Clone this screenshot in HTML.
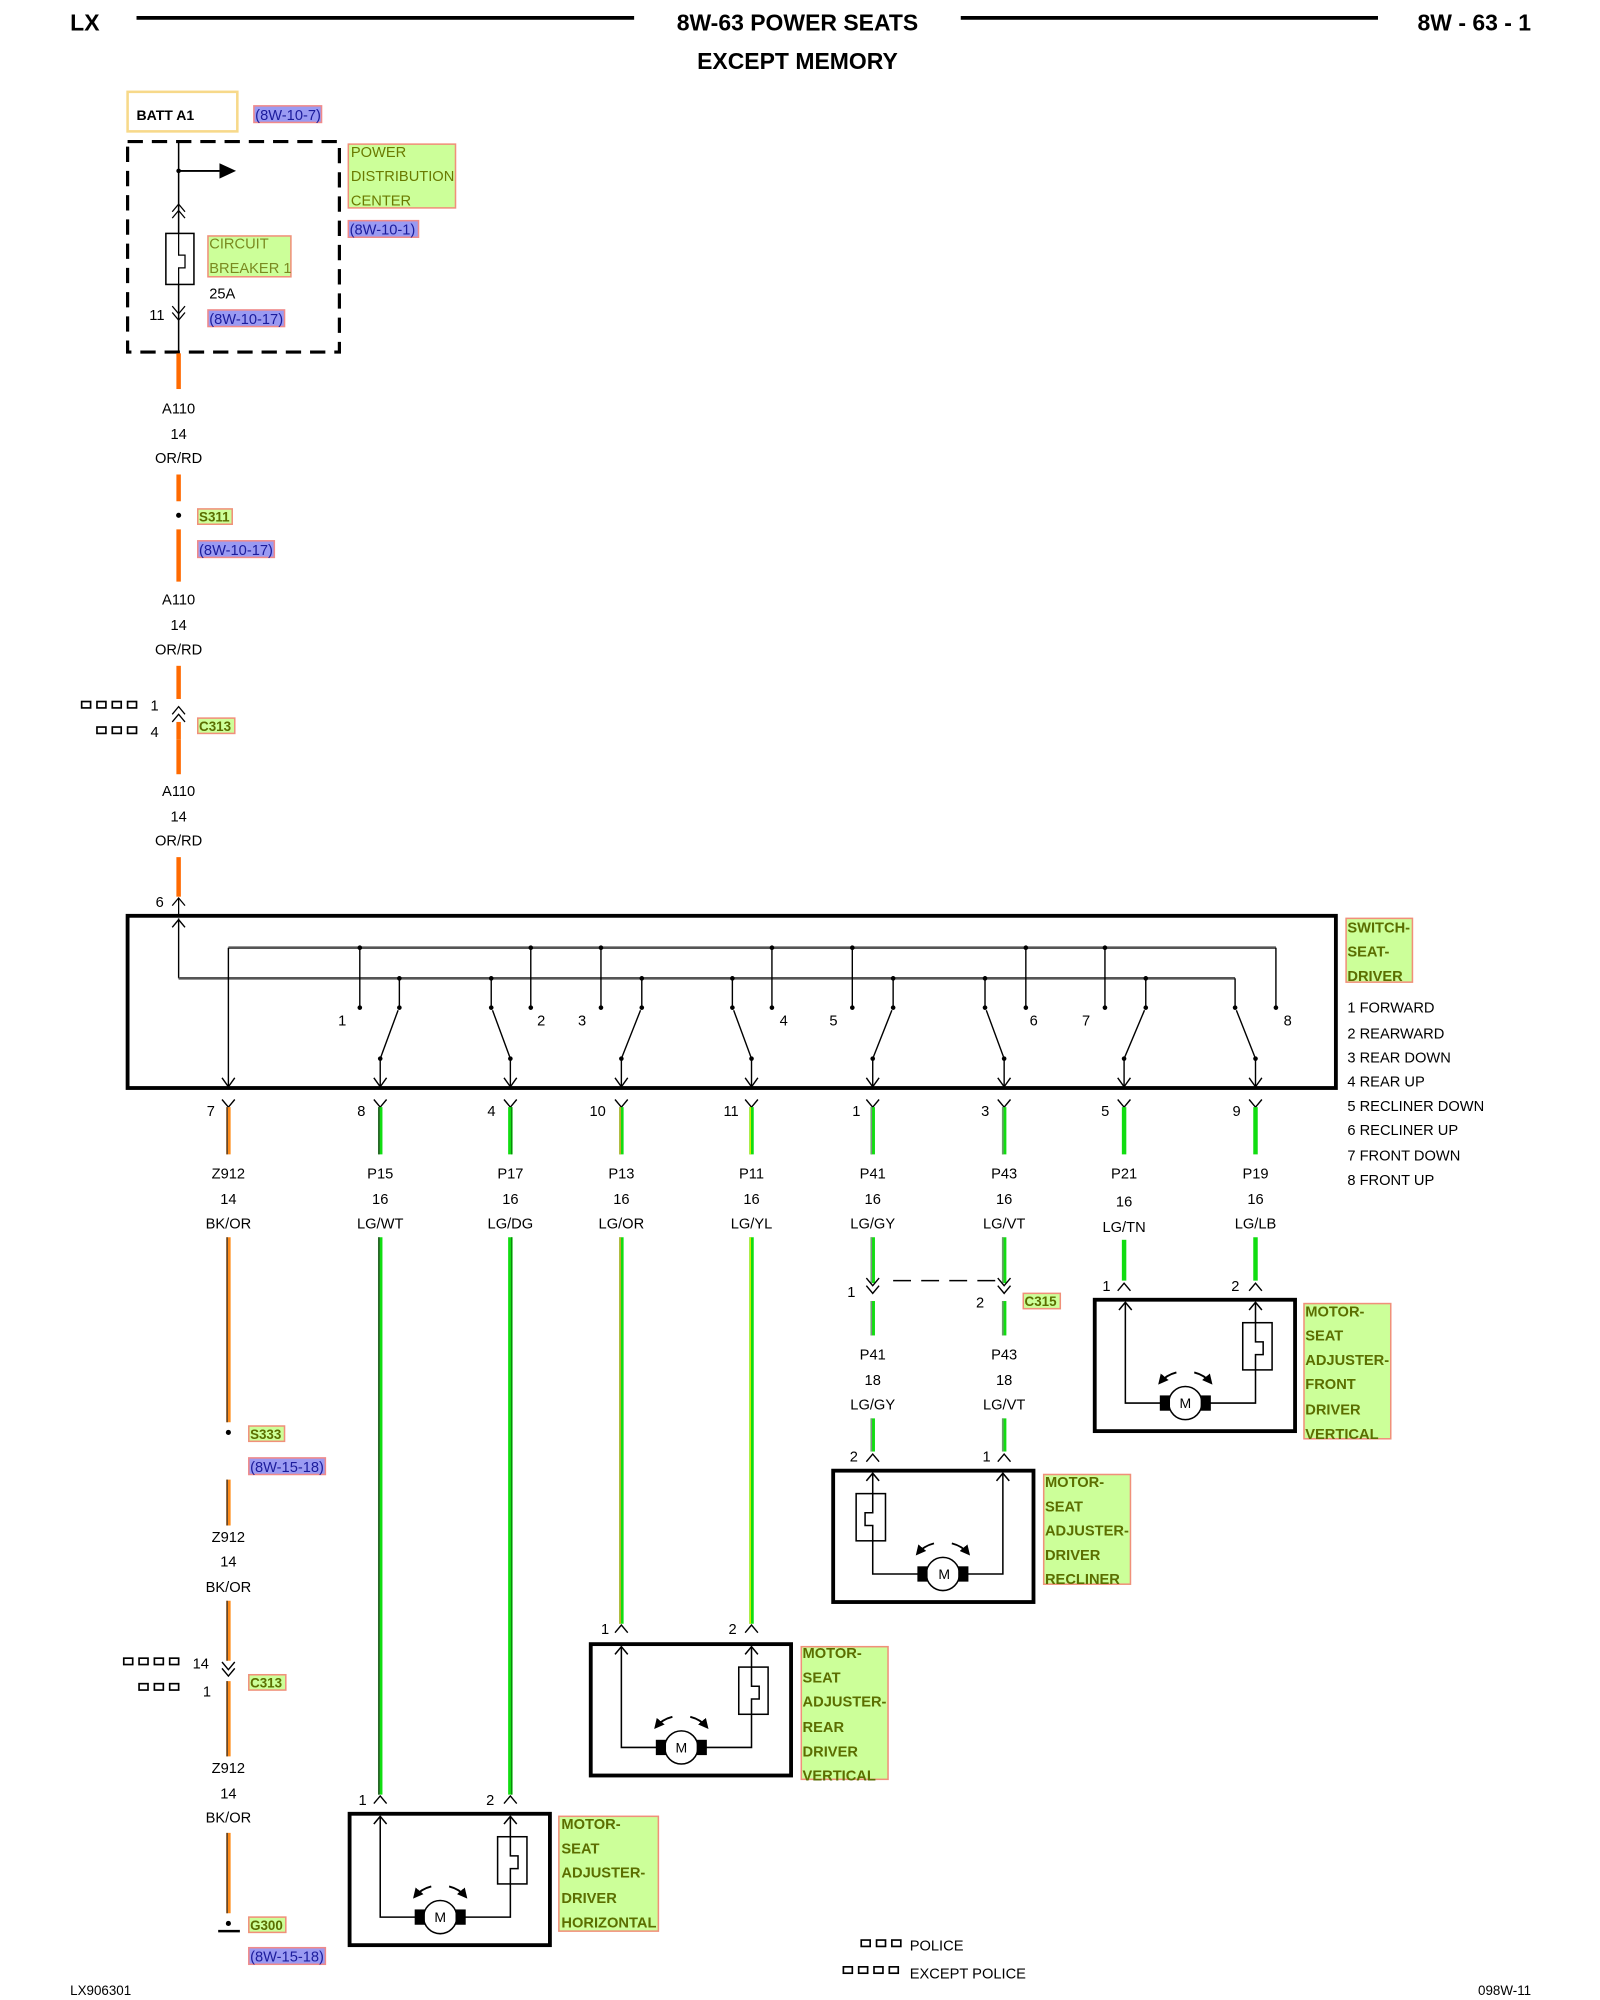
<!DOCTYPE html>
<html><head><meta charset="utf-8"><style>
html,body{margin:0;padding:0;background:#fff;}
svg{display:block;}
text{font-family:"Liberation Sans",sans-serif;font-size:11.5px;fill:#000;}
.h{font-size:18px;font-weight:bold;}
.g{fill:#5b6e00;font-weight:bold;font-size:11.5px;}
.p{fill:#1c1c9c;font-size:11.5px;}
.gb{fill:#ccff99;stroke:#f0907a;stroke-width:1.2;}
.pb{fill:#9a9af2;stroke:#f08a8a;stroke-width:1.2;}
.c{text-anchor:middle;}
</style></head><body>
<svg width="1600" height="2000" viewBox="0 0 1254 1568" preserveAspectRatio="none" xmlns="http://www.w3.org/2000/svg">
<defs>
<marker id="ah" markerWidth="8" markerHeight="8" refX="6" refY="4" orient="auto" markerUnits="userSpaceOnUse"><path d="M0,0 L8,4 L0,8 z" fill="#000"/></marker>
<g id="mot" fill="none" stroke="#000">
<rect x="0" y="0" width="157" height="103" stroke-width="3"/>
<path d="M24,2 V81 H59 M126,2 V18 M126,55 V81 H84" stroke-width="1.2"/>
<polyline points="19,8 24,2 29,8" stroke-width="1.2"/>
<polyline points="121,8 126,2 131,8" stroke-width="1.2"/>
<rect x="116" y="18" width="23" height="37" stroke-width="1.2"/>
<path d="M126,18 V33 h6 v10 h-6 V55" stroke-width="1.2"/>
<circle cx="71" cy="81" r="13" fill="#fff" stroke-width="1.2"/>
<rect x="51" y="75" width="8" height="12" fill="#000" stroke="none"/>
<rect x="83" y="75" width="8" height="12" fill="#000" stroke="none"/>
<path d="M64,57 Q56,59 51,65" stroke-width="1.5" marker-end="url(#ah)"/>
<path d="M78,57 Q86,59 91,65" stroke-width="1.5" marker-end="url(#ah)"/>
</g>
</defs>

<!-- header -->
<text x="55" y="24" class="h">LX</text>
<line x1="107" y1="14" x2="497" y2="14" stroke="#000" stroke-width="3"/>
<text x="625" y="24" class="h c">8W-63 POWER SEATS</text>
<line x1="753" y1="14" x2="1080" y2="14" stroke="#000" stroke-width="3"/>
<text x="1200" y="24" class="h" text-anchor="end">8W - 63 - 1</text>
<text x="625" y="54" class="h c">EXCEPT MEMORY</text>

<!-- BATT -->
<rect x="100" y="72" width="86" height="31" fill="none" stroke="#f7d98a" stroke-width="2"/>
<text x="107" y="94" style="font-size:11px;font-weight:bold">BATT A1</text>
<rect x="199" y="83" width="53" height="13" class="pb"/><text x="200" y="94" class="p">(8W-10-7)</text>

<!-- PDC -->
<rect x="100" y="111" width="166" height="165" fill="none" stroke="#000" stroke-width="2.5" stroke-dasharray="12,7"/>
<line x1="140" y1="111" x2="140" y2="276" stroke="#000" stroke-width="1.2"/>
<line x1="140" y1="134" x2="172" y2="134" stroke="#000" stroke-width="1.5"/>
<path d="M172,128 L185,134 L172,140 z"/>
<circle cx="140" cy="134" r="1.8"/>
<polyline points="135,166 140,160 145,166" fill="none" stroke="#000"/>
<polyline points="135,171 140,165 145,171" fill="none" stroke="#000"/>
<rect x="130" y="183" width="22" height="40" fill="#fff" stroke="#000" stroke-width="1.2"/>
<path d="M140,183 V200 h5 v10 h-5 V223" fill="none" stroke="#000"/>
<polyline points="135,240 140,246 145,240" fill="none" stroke="#000"/>
<polyline points="135,245 140,251 145,245" fill="none" stroke="#000"/>
<text x="117" y="251">11</text>
<rect x="163" y="185" width="65" height="32" class="gb"/>
<text x="164" y="195" style="fill:#7a8a20">CIRCUIT</text><text x="164" y="214" style="fill:#7a8a20">BREAKER 1</text>
<text x="164" y="234">25A</text>
<rect x="163" y="243" width="60" height="13" class="pb"/><text x="164" y="254" class="p">(8W-10-17)</text>
<rect x="273" y="113" width="84" height="50" class="gb"/>
<text x="275" y="123" class="g" style="font-weight:normal;fill:#6a7a00">POWER</text>
<text x="275" y="142" class="g" style="font-weight:normal;fill:#6a7a00">DISTRIBUTION</text>
<text x="275" y="161" class="g" style="font-weight:normal;fill:#6a7a00">CENTER</text>
<rect x="273" y="173" width="55" height="13" class="pb"/><text x="274" y="184" class="p">(8W-10-1)</text>

<!-- A110 orange wire -->
<g stroke="#ff6a00" stroke-width="3.5">
<line x1="140" y1="277" x2="140" y2="305"/><line x1="140" y1="372" x2="140" y2="393"/>
<line x1="140" y1="415" x2="140" y2="456"/><line x1="140" y1="522" x2="140" y2="548"/>
<line x1="140" y1="580" x2="140" y2="607"/><line x1="140" y1="672" x2="140" y2="703"/>
</g>
<text x="140" y="324" class="c">A110</text><text x="140" y="344" class="c">14</text><text x="140" y="363" class="c">OR/RD</text>
<circle cx="140" cy="404" r="2"/>
<rect x="155" y="399" width="27" height="12" class="gb"/><text x="156" y="409" class="g" style="font-size:10.5px">S311</text>
<rect x="155" y="424" width="60" height="13" class="pb"/><text x="156" y="435" class="p">(8W-10-17)</text>
<text x="140" y="474" class="c">A110</text><text x="140" y="494" class="c">14</text><text x="140" y="513" class="c">OR/RD</text>
<polyline points="135,560 140,554 145,560" fill="none" stroke="#000"/>
<polyline points="135,566 140,560 145,566" fill="none" stroke="#000"/>
<line x1="140" y1="566" x2="140" y2="580" stroke="#ff6a00" stroke-width="3.5"/>
<g fill="none" stroke="#000" stroke-width="1.3">
<rect x="64" y="550" width="7" height="5"/><rect x="76" y="550" width="7" height="5"/><rect x="88" y="550" width="7" height="5"/><rect x="100" y="550" width="7" height="5"/>
<rect x="76" y="570" width="7" height="5"/><rect x="88" y="570" width="7" height="5"/><rect x="100" y="570" width="7" height="5"/>
</g>
<text x="118" y="557">1</text><text x="118" y="578">4</text>
<rect x="155" y="563" width="29" height="12" class="gb"/><text x="156" y="573" class="g" style="font-size:10.5px">C313</text>
<text x="140" y="624" class="c">A110</text><text x="140" y="644" class="c">14</text><text x="140" y="663" class="c">OR/RD</text>
<text x="122" y="711">6</text>
<polyline points="135,710 140,704 145,710" fill="none" stroke="#000"/>
<line x1="140" y1="704" x2="140" y2="718" stroke="#000"/>

<!-- switch box -->
<rect x="100" y="718" width="947" height="135" fill="none" stroke="#000" stroke-width="3"/>
<g stroke="#000" stroke-width="1.1" fill="none">
<line x1="140" y1="720" x2="140" y2="767"/>
<polyline points="135,727 140,721 145,727"/>
<line x1="140" y1="767" x2="968" y2="767" stroke-width="2" stroke="#555"/>
<line x1="179" y1="743" x2="1000" y2="743" stroke-width="2" stroke="#555"/>
<line x1="179" y1="743" x2="179" y2="852"/>
<polyline points="174,845 179,852 184,845"/>
<line x1="968" y1="767" x2="968" y2="790"/>
<line x1="1000" y1="743" x2="1000" y2="790"/>
<line x1="282" y1="743" x2="282" y2="790"/><line x1="416" y1="743" x2="416" y2="790"/>
<line x1="471" y1="743" x2="471" y2="790"/><line x1="605" y1="743" x2="605" y2="790"/>
<line x1="668" y1="743" x2="668" y2="790"/><line x1="804" y1="743" x2="804" y2="790"/>
<line x1="866" y1="743" x2="866" y2="790"/>
<line x1="313" y1="767" x2="313" y2="790"/><line x1="385" y1="767" x2="385" y2="790"/>
<line x1="503" y1="767" x2="503" y2="790"/><line x1="574" y1="767" x2="574" y2="790"/>
<line x1="700" y1="767" x2="700" y2="790"/><line x1="772" y1="767" x2="772" y2="790"/>
<line x1="898" y1="767" x2="898" y2="790"/>
<line x1="298" y1="830" x2="312" y2="792"/><line x1="400" y1="830" x2="386" y2="792"/>
<line x1="487" y1="830" x2="502" y2="792"/><line x1="589" y1="830" x2="575" y2="792"/>
<line x1="684" y1="830" x2="699" y2="792"/><line x1="787" y1="830" x2="773" y2="792"/>
<line x1="881" y1="830" x2="897" y2="792"/><line x1="984" y1="830" x2="969" y2="792"/>
<line x1="298" y1="830" x2="298" y2="852"/><line x1="400" y1="830" x2="400" y2="852"/>
<line x1="487" y1="830" x2="487" y2="852"/><line x1="589" y1="830" x2="589" y2="852"/>
<line x1="684" y1="830" x2="684" y2="852"/><line x1="787" y1="830" x2="787" y2="852"/>
<line x1="881" y1="830" x2="881" y2="852"/><line x1="984" y1="830" x2="984" y2="852"/>
<polyline points="293,845 298,852 303,845"/><polyline points="395,845 400,852 405,845"/>
<polyline points="482,845 487,852 492,845"/><polyline points="584,845 589,852 594,845"/>
<polyline points="679,845 684,852 689,845"/><polyline points="782,845 787,852 792,845"/>
<polyline points="876,845 881,852 886,845"/><polyline points="979,845 984,852 989,845"/>
</g>
<g fill="#000">
<circle cx="282" cy="743" r="1.8"/><circle cx="416" cy="743" r="1.8"/><circle cx="471" cy="743" r="1.8"/><circle cx="605" cy="743" r="1.8"/><circle cx="668" cy="743" r="1.8"/><circle cx="804" cy="743" r="1.8"/><circle cx="866" cy="743" r="1.8"/>
<circle cx="313" cy="767" r="1.8"/><circle cx="385" cy="767" r="1.8"/><circle cx="503" cy="767" r="1.8"/><circle cx="574" cy="767" r="1.8"/><circle cx="700" cy="767" r="1.8"/><circle cx="772" cy="767" r="1.8"/><circle cx="898" cy="767" r="1.8"/>
<circle cx="282" cy="790" r="1.8"/><circle cx="416" cy="790" r="1.8"/><circle cx="471" cy="790" r="1.8"/><circle cx="605" cy="790" r="1.8"/><circle cx="668" cy="790" r="1.8"/><circle cx="804" cy="790" r="1.8"/><circle cx="866" cy="790" r="1.8"/><circle cx="1000" cy="790" r="1.8"/>
<circle cx="313" cy="790" r="1.8"/><circle cx="385" cy="790" r="1.8"/><circle cx="503" cy="790" r="1.8"/><circle cx="574" cy="790" r="1.8"/><circle cx="700" cy="790" r="1.8"/><circle cx="772" cy="790" r="1.8"/><circle cx="898" cy="790" r="1.8"/><circle cx="968" cy="790" r="1.8"/>
<circle cx="298" cy="830" r="1.8"/><circle cx="400" cy="830" r="1.8"/><circle cx="487" cy="830" r="1.8"/><circle cx="589" cy="830" r="1.8"/><circle cx="684" cy="830" r="1.8"/><circle cx="787" cy="830" r="1.8"/><circle cx="881" cy="830" r="1.8"/><circle cx="984" cy="830" r="1.8"/>
</g>
<text x="265" y="804">1</text><text x="421" y="804">2</text><text x="453" y="804">3</text><text x="611" y="804">4</text>
<text x="650" y="804">5</text><text x="807" y="804">6</text><text x="848" y="804">7</text><text x="1006" y="804">8</text>
<rect x="1055" y="720" width="52" height="50" class="gb"/>
<text x="1056" y="731" class="g">SWITCH-</text><text x="1056" y="750" class="g">SEAT-</text><text x="1056" y="769" class="g">DRIVER</text>
<text x="1056" y="794">1 FORWARD</text><text x="1056" y="814">2 REARWARD</text><text x="1056" y="833">3 REAR DOWN</text>
<text x="1056" y="852">4 REAR UP</text><text x="1056" y="871">5 RECLINER DOWN</text><text x="1056" y="890">6 RECLINER UP</text>
<text x="1056" y="910">7 FRONT DOWN</text><text x="1056" y="929">8 FRONT UP</text>

<!-- pins below switch -->
<g fill="none" stroke="#000" stroke-width="1.1">
<polyline points="174,862 179,868 184,862"/><polyline points="293,862 298,868 303,862"/><polyline points="395,862 400,868 405,862"/>
<polyline points="482,862 487,868 492,862"/><polyline points="584,862 589,868 594,862"/><polyline points="679,862 684,868 689,862"/>
<polyline points="782,862 787,868 792,862"/><polyline points="876,862 881,868 886,862"/><polyline points="979,862 984,868 989,862"/>
</g>
<text x="162" y="875">7</text><text x="280" y="875">8</text><text x="382" y="875">4</text><text x="462" y="875">10</text>
<text x="567" y="875">11</text><text x="668" y="875">1</text><text x="769" y="875">3</text><text x="863" y="875">5</text><text x="966" y="875">9</text>

<!-- wires -->
<g stroke-width="3.5">
<g stroke="#ff8c1a"><line x1="179" y1="868" x2="179" y2="905"/><line x1="179" y1="970" x2="179" y2="1115"/><line x1="179" y1="1160" x2="179" y2="1196"/><line x1="179" y1="1255" x2="179" y2="1302"/><line x1="179" y1="1318" x2="179" y2="1377"/><line x1="179" y1="1437" x2="179" y2="1500"/></g>
<g stroke="#11dd11">
<line x1="298" y1="868" x2="298" y2="905"/><line x1="298" y1="970" x2="298" y2="1407"/>
<line x1="400" y1="868" x2="400" y2="905"/><line x1="400" y1="970" x2="400" y2="1407"/>
<line x1="487" y1="868" x2="487" y2="905"/><line x1="487" y1="970" x2="487" y2="1273"/>
<line x1="589" y1="868" x2="589" y2="905"/><line x1="589" y1="970" x2="589" y2="1273"/>
<line x1="684" y1="868" x2="684" y2="905"/><line x1="684" y1="970" x2="684" y2="1006"/><line x1="684" y1="1020" x2="684" y2="1047"/><line x1="684" y1="1112" x2="684" y2="1138"/>
<line x1="787" y1="868" x2="787" y2="905"/><line x1="787" y1="970" x2="787" y2="1006"/><line x1="787" y1="1020" x2="787" y2="1047"/><line x1="787" y1="1112" x2="787" y2="1138"/>
<line x1="881" y1="868" x2="881" y2="905"/><line x1="881" y1="972" x2="881" y2="1004"/>
<line x1="984" y1="868" x2="984" y2="905"/><line x1="984" y1="970" x2="984" y2="1004"/>
</g></g>
<g stroke-width="1">
<g stroke="#333"><line x1="178" y1="868" x2="178" y2="905"/><line x1="178" y1="970" x2="178" y2="1115"/><line x1="178" y1="1160" x2="178" y2="1196"/><line x1="178" y1="1255" x2="178" y2="1302"/><line x1="178" y1="1318" x2="178" y2="1377"/><line x1="178" y1="1437" x2="178" y2="1500"/>
<line x1="297" y1="868" x2="297" y2="905"/><line x1="297" y1="970" x2="297" y2="1407"/></g>
<g stroke="#0a8a0a"><line x1="401" y1="868" x2="401" y2="905"/><line x1="401" y1="970" x2="401" y2="1407"/></g>
<g stroke="#ff9933"><line x1="486" y1="868" x2="486" y2="905"/><line x1="486" y1="970" x2="486" y2="1273"/></g>
<g stroke="#eeee00"><line x1="588" y1="868" x2="588" y2="905"/><line x1="588" y1="970" x2="588" y2="1273"/></g>
<g stroke="#888"><line x1="683" y1="868" x2="683" y2="905"/><line x1="683" y1="970" x2="683" y2="1006"/><line x1="683" y1="1020" x2="683" y2="1047"/><line x1="683" y1="1112" x2="683" y2="1138"/>
<line x1="786" y1="868" x2="786" y2="905"/><line x1="786" y1="970" x2="786" y2="1006"/><line x1="786" y1="1020" x2="786" y2="1047"/><line x1="786" y1="1112" x2="786" y2="1138"/></g>
</g>

<!-- wire labels -->
<text x="179" y="924" class="c">Z912</text><text x="179" y="944" class="c">14</text><text x="179" y="963" class="c">BK/OR</text>
<text x="298" y="924" class="c">P15</text><text x="298" y="944" class="c">16</text><text x="298" y="963" class="c">LG/WT</text>
<text x="400" y="924" class="c">P17</text><text x="400" y="944" class="c">16</text><text x="400" y="963" class="c">LG/DG</text>
<text x="487" y="924" class="c">P13</text><text x="487" y="944" class="c">16</text><text x="487" y="963" class="c">LG/OR</text>
<text x="589" y="924" class="c">P11</text><text x="589" y="944" class="c">16</text><text x="589" y="963" class="c">LG/YL</text>
<text x="684" y="924" class="c">P41</text><text x="684" y="944" class="c">16</text><text x="684" y="963" class="c">LG/GY</text>
<text x="787" y="924" class="c">P43</text><text x="787" y="944" class="c">16</text><text x="787" y="963" class="c">LG/VT</text>
<text x="881" y="924" class="c">P21</text><text x="881" y="946" class="c">16</text><text x="881" y="966" class="c">LG/TN</text>
<text x="984" y="924" class="c">P19</text><text x="984" y="944" class="c">16</text><text x="984" y="963" class="c">LG/LB</text>

<!-- Z912 path -->
<circle cx="179" cy="1123" r="2"/>
<rect x="195" y="1118" width="28" height="12" class="gb"/><text x="196" y="1128" class="g" style="font-size:10.5px">S333</text>
<rect x="195" y="1143" width="60" height="13" class="pb"/><text x="196" y="1154" class="p">(8W-15-18)</text>
<text x="179" y="1209" class="c">Z912</text><text x="179" y="1228" class="c">14</text><text x="179" y="1248" class="c">BK/OR</text>
<g fill="none" stroke="#000" stroke-width="1.1">
<polyline points="174,1303 179,1309 184,1303"/><polyline points="174,1308 179,1314 184,1308"/>
<rect x="97" y="1300" width="7" height="5" stroke-width="1.3"/><rect x="109" y="1300" width="7" height="5" stroke-width="1.3"/><rect x="121" y="1300" width="7" height="5" stroke-width="1.3"/><rect x="133" y="1300" width="7" height="5" stroke-width="1.3"/>
<rect x="109" y="1320" width="7" height="5" stroke-width="1.3"/><rect x="121" y="1320" width="7" height="5" stroke-width="1.3"/><rect x="133" y="1320" width="7" height="5" stroke-width="1.3"/>
</g>
<text x="151" y="1308">14</text><text x="159" y="1330">1</text>
<rect x="195" y="1313" width="29" height="12" class="gb"/><text x="196" y="1323" class="g" style="font-size:10.5px">C313</text>
<text x="179" y="1390" class="c">Z912</text><text x="179" y="1410" class="c">14</text><text x="179" y="1429" class="c">BK/OR</text>
<circle cx="179" cy="1508" r="2"/><line x1="171" y1="1514" x2="188" y2="1514" stroke="#000" stroke-width="2"/>
<rect x="195" y="1503" width="29" height="12" class="gb"/><text x="196" y="1513" class="g" style="font-size:10.5px">G300</text>
<rect x="195" y="1527" width="60" height="13" class="pb"/><text x="196" y="1538" class="p">(8W-15-18)</text>

<!-- C315 -->
<g fill="none" stroke="#000" stroke-width="1.1">
<polyline points="679,1002 684,1008 689,1002"/><polyline points="679,1008 684,1014 689,1008"/>
<polyline points="782,1002 787,1008 792,1002"/><polyline points="782,1008 787,1014 792,1008"/>
<line x1="700" y1="1004" x2="782" y2="1004" stroke-dasharray="14,8"/>
</g>
<text x="664" y="1017">1</text><text x="765" y="1025">2</text>
<rect x="802" y="1014" width="29" height="12" class="gb"/><text x="803" y="1024" class="g" style="font-size:10.5px">C315</text>
<text x="684" y="1066" class="c">P41</text><text x="684" y="1086" class="c">18</text><text x="684" y="1105" class="c">LG/GY</text>
<text x="787" y="1066" class="c">P43</text><text x="787" y="1086" class="c">18</text><text x="787" y="1105" class="c">LG/VT</text>

<!-- motor pins -->
<g fill="none" stroke="#000" stroke-width="1.1">
<polyline points="293,1414 298,1408 303,1414"/><polyline points="395,1414 400,1408 405,1414"/>
<polyline points="482,1280 487,1274 492,1280"/><polyline points="584,1280 589,1274 594,1280"/>
<polyline points="679,1146 684,1140 689,1146"/><polyline points="782,1146 787,1140 792,1146"/>
<polyline points="876,1012 881,1006 886,1012"/><polyline points="979,1012 984,1006 989,1012"/>
</g>
<text x="281" y="1415">1</text><text x="381" y="1415">2</text>
<text x="471" y="1281">1</text><text x="571" y="1281">2</text>
<text x="666" y="1146">2</text><text x="770" y="1146">1</text>
<text x="864" y="1012">1</text><text x="965" y="1012">2</text>

<!-- motors -->
<use href="#mot" x="274" y="1422"/>
<use href="#mot" x="463" y="1289"/>
<use href="#mot" x="858" y="1019"/>
<use href="#mot" transform="translate(810,1153) scale(-1,1)"/>
<text x="345" y="1507" class="c" style="font-size:11px">M</text>
<text x="534" y="1374" class="c" style="font-size:11px">M</text>
<text x="929" y="1104" class="c" style="font-size:11px">M</text>
<text x="740" y="1238" class="c" style="font-size:11px">M</text>

<rect x="438" y="1424" width="78" height="90" class="gb"/>
<text x="440" y="1434" class="g">MOTOR-</text><text x="440" y="1453" class="g">SEAT</text><text x="440" y="1472" class="g">ADJUSTER-</text><text x="440" y="1492" class="g">DRIVER</text><text x="440" y="1511" class="g">HORIZONTAL</text>
<rect x="628" y="1291" width="68" height="104" class="gb"/>
<text x="629" y="1300" class="g">MOTOR-</text><text x="629" y="1319" class="g">SEAT</text><text x="629" y="1338" class="g">ADJUSTER-</text><text x="629" y="1358" class="g">REAR</text><text x="629" y="1377" class="g">DRIVER</text><text x="629" y="1396" class="g">VERTICAL</text>
<rect x="818" y="1156" width="68" height="86" class="gb"/>
<text x="819" y="1166" class="g">MOTOR-</text><text x="819" y="1185" class="g">SEAT</text><text x="819" y="1204" class="g">ADJUSTER-</text><text x="819" y="1223" class="g">DRIVER</text><text x="819" y="1242" class="g">RECLINER</text>
<rect x="1022" y="1022" width="68" height="106" class="gb"/>
<text x="1023" y="1032" class="g">MOTOR-</text><text x="1023" y="1051" class="g">SEAT</text><text x="1023" y="1070" class="g">ADJUSTER-</text><text x="1023" y="1089" class="g">FRONT</text><text x="1023" y="1109" class="g">DRIVER</text><text x="1023" y="1128" class="g">VERTICAL</text>

<!-- legend -->
<g fill="none" stroke="#000" stroke-width="1.3">
<rect x="675" y="1521" width="7" height="5"/><rect x="687" y="1521" width="7" height="5"/><rect x="699" y="1521" width="7" height="5"/>
<rect x="661" y="1542" width="7" height="5"/><rect x="673" y="1542" width="7" height="5"/><rect x="685" y="1542" width="7" height="5"/><rect x="697" y="1542" width="7" height="5"/>
</g>
<text x="713" y="1529">POLICE</text><text x="713" y="1551">EXCEPT POLICE</text>
<text x="55" y="1564" style="font-size:10.5px">LX906301</text>
<text x="1200" y="1564" text-anchor="end" style="font-size:10.5px">098W-11</text>
</svg>
</body></html>
